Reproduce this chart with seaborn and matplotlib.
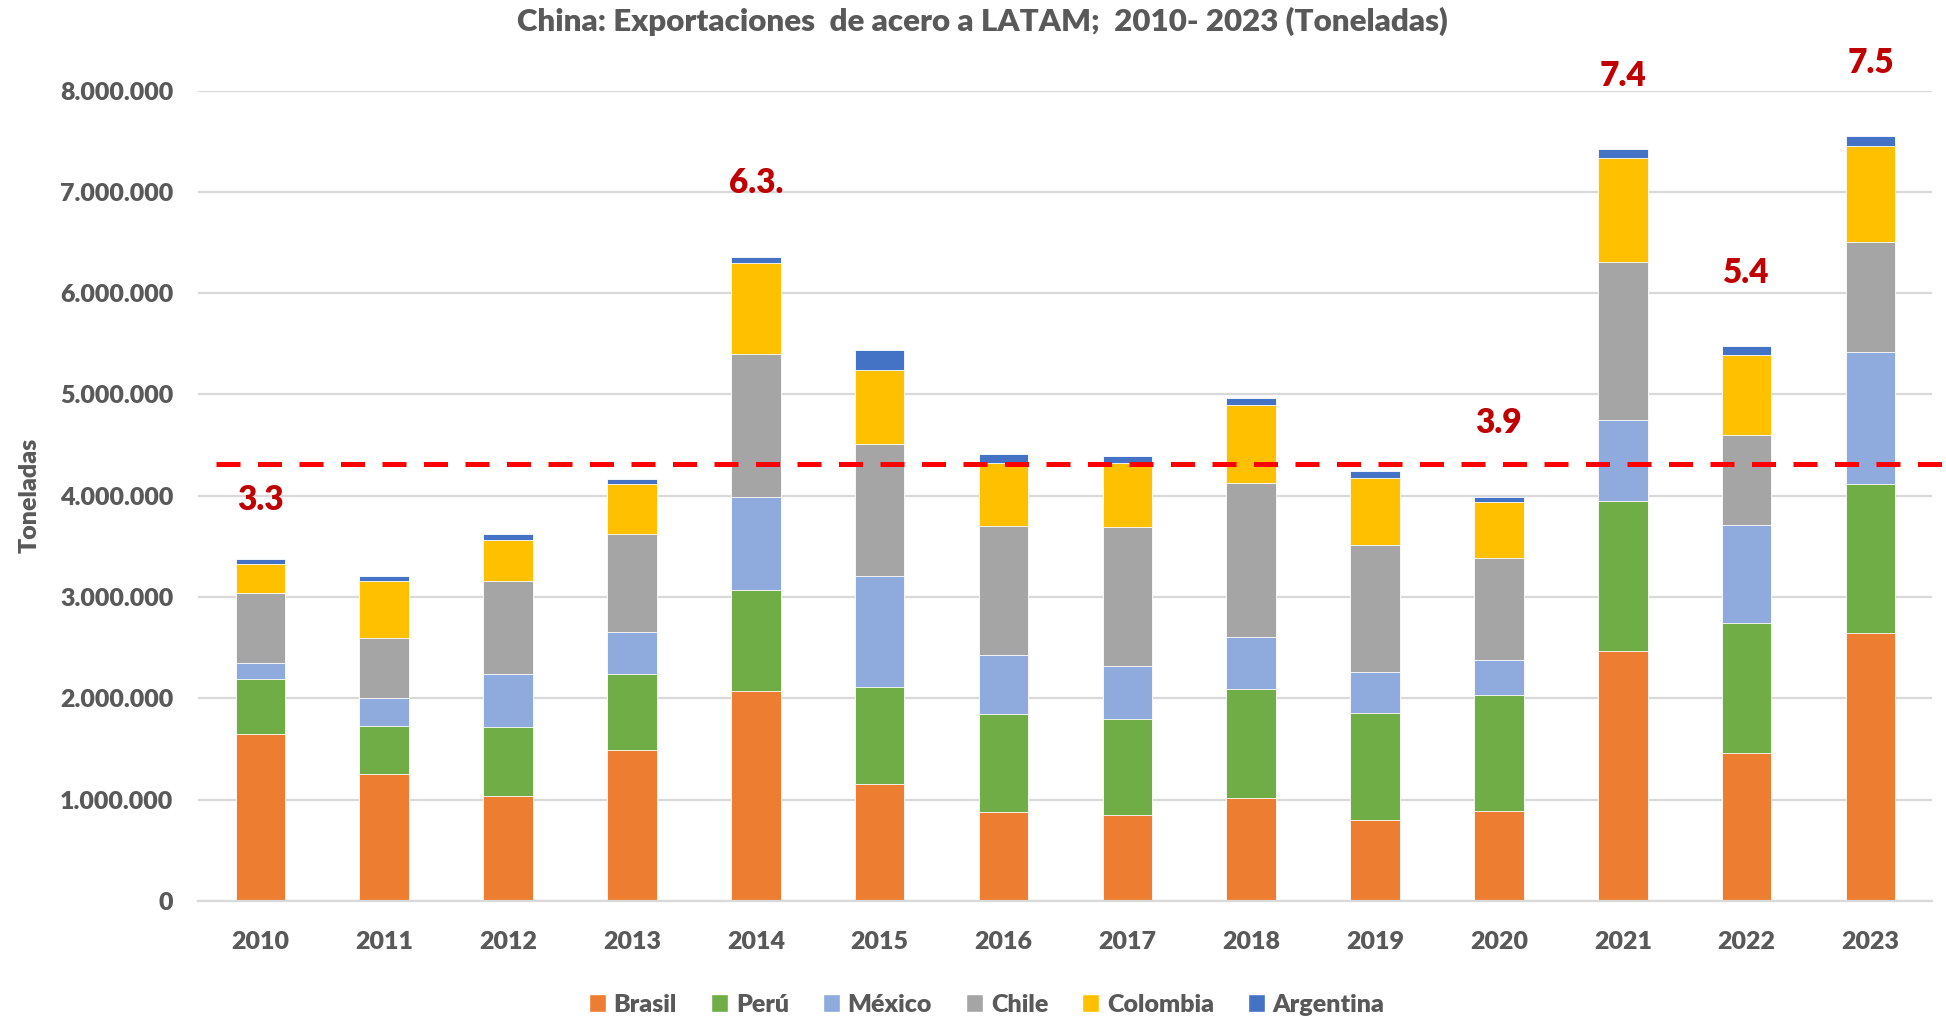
import numpy as np
import seaborn as sns
import matplotlib.pyplot as plt
from matplotlib.patches import Patch
from matplotlib.ticker import FuncFormatter

years = [str(y) for y in range(2010, 2024)]

brasil    = [1652000, 1256000, 1032000, 1494000, 2069000, 1151000, 874000, 845000, 1015000, 797000, 884000, 2472000, 1457000, 2647000]
peru      = [541000, 472000, 686000, 742000, 1005000, 962000, 976000, 952000, 1078000, 1063000, 1151000, 1481000, 1282000, 1467000]
mexico    = [152000, 280000, 518000, 422000, 918000, 1092000, 578000, 524000, 510000, 398000, 345000, 797000, 976000, 1306000]
chile     = [699000, 591000, 926000, 966000, 1409000, 1302000, 1278000, 1375000, 1520000, 1253000, 1010000, 1559000, 884000, 1088000]
colombia  = [280000, 560000, 406000, 491000, 898000, 733000, 616000, 626000, 773000, 661000, 544000, 1030000, 792000, 942000]
argentina = [56000, 53000, 53000, 50000, 58000, 199000, 93000, 68000, 72000, 68000, 58000, 80000, 83000, 100000]

series = ["Brasil", "Perú", "México", "Chile", "Colombia", "Argentina"]
values = [brasil, peru, mexico, chile, colombia, argentina]
colors = ["#ED7D31", "#70AD47", "#8FAADC", "#A5A5A5", "#FFC000", "#4472C4"]

label_years = ["2010", "2014", "2020", "2021", "2022", "2023"]
label_texts = ["3.3", "6.3.", "3.9", "7.4", "5.4", "7.5"]
ref_line = 4310000

sns.set_style("white")
plt.rcParams['font.family'] = ['Lato', 'DejaVu Sans']
grey = "#595959"
wt = "heavy"

fig, ax = plt.subplots(figsize=(19.46, 10.18), dpi=100)
fig.subplots_adjust(left=0.102, right=0.993, bottom=0.115, top=0.911)

cum = np.cumsum(np.array(values), axis=0)
# draw from the top layer down so each lower layer covers the one above
for i in reversed(range(len(series))):
    sns.barplot(x=years, y=cum[i], color=colors[i], width=0.4, saturation=1,
                edgecolor="white", linewidth=0.6, ax=ax, zorder=2)

ax.set_xlim(-0.5, 13.5)
ax.set_ylim(0, 8000000)
ax.set_yticks(np.arange(0, 8000001, 1000000))
ax.yaxis.set_major_formatter(FuncFormatter(lambda v, p: f"{int(v):,}".replace(",", ".")))
ax.yaxis.grid(True, color="#D9D9D9", linewidth=1.6)
ax.set_axisbelow(True)
for s in ["top", "right", "left"]:
    ax.spines[s].set_visible(False)
ax.spines["bottom"].set_color("#D9D9D9")
ax.spines["bottom"].set_linewidth(1.6)
ax.tick_params(axis="both", length=0, labelsize=18, labelcolor=grey)
ax.tick_params(axis="x", pad=22)
ax.tick_params(axis="y", pad=18)
for t in ax.get_xticklabels() + ax.get_yticklabels():
    t.set_fontweight(wt)

ax.set_xlabel("")
ax.set_ylabel("Toneladas", fontsize=18, fontweight=wt, color=grey, labelpad=14)

ax.plot([-0.36, 13.6], [ref_line, ref_line], color="#FF0000", linewidth=3.6,
        dashes=(4.8, 3.5), clip_on=False, zorder=4)

totals = cum[-1]
for yr, txt in zip(label_years, label_texts):
    i = years.index(yr)
    off = 42 if yr == "2010" else 53
    ax.annotate(txt, (i, totals[i]), xytext=(0, off), textcoords="offset points",
                ha="center", va="center", fontsize=24, fontweight=wt,
                color="#C00000", annotation_clip=False)

fig.suptitle("China: Exportaciones  de acero a LATAM;  2010- 2023 (Toneladas)",
             x=0.505, y=0.979, va="center", fontsize=22.5, fontweight=wt, color=grey)

handles = [Patch(facecolor=c, label=s) for s, c in zip(series, colors)]
fig.legend(handles=handles, loc="center", bbox_to_anchor=(0.507, 0.013), ncol=6,
           frameon=False, handlelength=0.7, handleheight=0.7,
           handletextpad=0.3, columnspacing=1.35, prop={"weight": wt, "size": 18},
           labelcolor=grey)

fig.savefig("out.png", dpi=100)
